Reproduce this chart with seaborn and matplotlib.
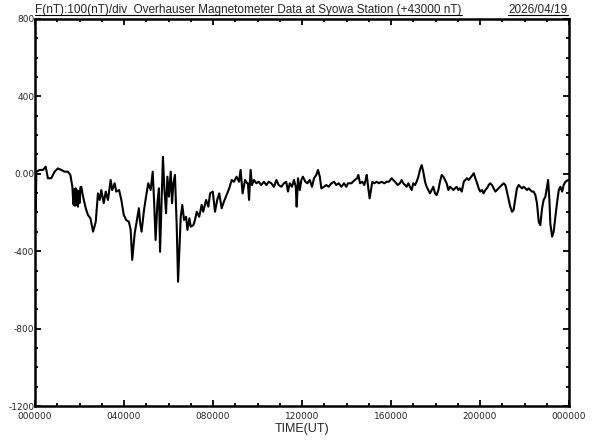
import matplotlib
matplotlib.use("Agg")
import matplotlib.pyplot as plt
from matplotlib.lines import Line2D
from matplotlib.ticker import FixedLocator, FixedFormatter, MultipleLocator
import seaborn as sns
import pandas as pd

# time of day (hours UT) and F deviation from 43000 nT
hours = [
    0.00, 0.03, 0.06, 0.21, 0.36, 0.48, 0.58, 0.73, 0.88, 1.03, 1.18, 1.33, 1.48, 1.59, 1.68,
    1.72, 1.74, 1.77, 1.80, 1.83, 1.86, 1.90, 1.93, 1.97, 2.01, 2.04, 2.08, 2.16, 2.28, 2.38,
    2.49, 2.61, 2.73, 2.83, 2.91, 2.98, 3.09, 3.18, 3.28, 3.40, 3.47, 3.58, 3.65, 3.78, 3.88,
    3.99, 4.10, 4.22, 4.30, 4.37, 4.48, 4.58, 4.67, 4.72, 4.79, 4.90, 4.99, 5.09, 5.20, 5.29,
    5.35, 5.42, 5.50, 5.57, 5.62, 5.69, 5.75, 5.81, 5.89, 5.95, 6.02, 6.10, 6.16, 6.22, 6.29,
    6.37, 6.43, 6.49, 6.55, 6.62, 6.70, 6.79, 6.85, 6.94, 7.00, 7.12, 7.19, 7.27, 7.38, 7.49,
    7.56, 7.69, 7.79, 7.87, 7.99, 8.09, 8.19, 8.28, 8.39, 8.49, 8.61, 8.73, 8.84, 8.94, 9.06,
    9.17, 9.24, 9.33, 9.44, 9.54, 9.57, 9.62, 9.69, 9.75, 9.84, 9.95, 10.05, 10.17, 10.29, 10.40,
    10.50, 10.62, 10.74, 10.85, 10.95, 11.07, 11.19, 11.29, 11.37, 11.45, 11.55, 11.64, 11.72, 11.76, 11.82,
    11.90, 11.97, 12.04, 12.15, 12.24, 12.35, 12.45, 12.54, 12.64, 12.72, 12.80, 12.87, 12.99, 13.09, 13.20,
    13.32, 13.44, 13.54, 13.65, 13.77, 13.89, 13.99, 14.07, 14.22, 14.37, 14.48, 14.53, 14.61, 14.71, 14.80,
    14.86, 14.91, 14.98, 15.04, 15.10, 15.16, 15.25, 15.36, 15.46, 15.58, 15.70, 15.81, 15.91, 16.03, 16.10,
    16.18, 16.30, 16.40, 16.48, 16.55, 16.63, 16.70, 16.78, 16.85, 16.93, 17.00, 17.08, 17.15, 17.23, 17.30,
    17.38, 17.45, 17.53, 17.60, 17.68, 17.75, 17.83, 17.90, 17.98, 18.05, 18.13, 18.20, 18.28, 18.35, 18.43,
    18.50, 18.58, 18.65, 18.73, 18.80, 18.88, 18.95, 19.03, 19.10, 19.18, 19.27, 19.34, 19.42, 19.49, 19.61,
    19.72, 19.79, 19.87, 19.94, 20.01, 20.09, 20.16, 20.24, 20.31, 20.39, 20.46, 20.54, 20.61, 20.69, 20.76,
    20.84, 20.91, 20.99, 21.06, 21.14, 21.21, 21.29, 21.36, 21.44, 21.51, 21.59, 21.66, 21.74, 21.81, 21.89,
    21.96, 22.04, 22.11, 22.19, 22.26, 22.34, 22.41, 22.49, 22.56, 22.64, 22.71, 22.79, 22.86, 22.94, 23.01,
    23.06, 23.12, 23.16, 23.24, 23.31, 23.39, 23.46, 23.54, 23.61, 23.69, 23.76, 23.84, 23.96,
]
f_nt = [
    -20, -190, 11, 20, 20, 37, -23, -23, 11, 28, 20, 11, 11, -6, -67,
    -150, -161, -80, -165, -75, -160, -85, -170, -90, -150, -70, -67, -118, -178, -213,
    -230, -299, -248, -101, -135, -84, -152, -92, -135, -32, -84, -49, -92, -84, -135,
    -213, -239, -248, -290, -445, -308, -239, -178, -248, -299, -187, -118, -49, -84, 11,
    -135, -342, -152, -75, -403, -135, 88, -67, -204, -15, -118, 11, -152, -49, -6,
    -273, -558, -394, -222, -161, -239, -222, -290, -230, -273, -265, -239, -196, -222, -161,
    -196, -135, -170, -101, -92, -196, -135, -101, -178, -144, -110, -75, -32, -41, -15,
    -41, 20, -101, -32, -49, -49, -135, 20, -58, -32, -49, -41, -58, -41, -58,
    -41, -49, -67, -32, -58, -67, -49, -41, -92, -49, -67, -32, -67, -170, -23,
    -84, -32, -15, -41, -49, -32, -67, -23, -6, 20, -15, -75, -67, -58, -67,
    -49, -41, -58, -49, -67, -49, -67, -49, -49, -32, -23, -6, -49, -41, -58,
    -32, -6, -75, -127, -84, -41, -49, -41, -49, -41, -49, -41, -41, -23, -32,
    -41, -58, -49, -32, -49, -58, -67, -49, -67, -84, -49, -58, -41, -15, 20,
    45, 11, -41, -67, -84, -101, -84, -67, -101, -110, -84, -41, -6, -15, -32,
    -49, -84, -67, -75, -84, -75, -67, -84, -75, -92, -41, -32, -23, -32, -15,
    3, -23, -49, -75, -92, -84, -101, -84, -75, -58, -49, -58, -75, -92, -84,
    -75, -67, -58, -49, -58, -92, -135, -170, -196, -187, -127, -75, -58, -67, -75,
    -67, -75, -84, -75, -84, -92, -92, -110, -152, -248, -265, -178, -135, -118, -67,
    -32, -135, -256, -325, -299, -222, -152, -84, -67, -92, -58, -41, -32,
]

y_ticks = [-1200, -800, -400, 0, 400, 800]
y_labels = ["-1200", "-800", "-400", "0.00", "400", "800"]
x_ticks = [0, 4, 8, 12, 16, 20, 24]
x_labels = ["000000", "040000", "080000", "120000", "160000", "200000", "000000"]

df = pd.DataFrame({"hour": hours, "F": f_nt})

sns.set_style("ticks")
plt.rcParams["font.family"] = ["Liberation Sans", "DejaVu Sans"]

fig = plt.figure(figsize=(5.92, 4.40), dpi=100)
ax = fig.add_axes([35 / 592, 1 - 406 / 440, 534 / 592, 387 / 440])

sns.lineplot(data=df, x="hour", y="F", color="black", linewidth=1.5,
             estimator=None, sort=False, ax=ax)

ax.set_xlim(0, 24)
ax.set_ylim(-1200, 800)
ax.xaxis.set_major_locator(FixedLocator(x_ticks))
ax.xaxis.set_major_formatter(FixedFormatter(x_labels))
ax.xaxis.set_minor_locator(MultipleLocator(1))
ax.yaxis.set_major_locator(FixedLocator(y_ticks))
ax.yaxis.set_major_formatter(FixedFormatter(y_labels))
ax.yaxis.set_minor_locator(MultipleLocator(100))

for s in ax.spines.values():
    s.set_visible(True)
    s.set_linewidth(1.8)
    s.set_color("black")

ax.tick_params(which="both", direction="in", top=True, right=True,
               color="black", width=1.3)
ax.tick_params(which="major", length=4.5)
ax.tick_params(which="minor", length=2.5)
ax.tick_params(axis="x", which="major", pad=4.5, labelsize=6.5)
ax.tick_params(axis="y", which="major", pad=0.5, labelsize=6.5)
for lab in ax.get_xticklabels() + ax.get_yticklabels():
    lab.set_family("DejaVu Sans")

ax.set_xlabel("TIME(UT)", fontsize=9, labelpad=1)
ax.set_ylabel("")

t1 = ax.annotate("F(nT):100(nT)/div  Overhauser Magnetometer Data at Syowa Station (+43000 nT)",
                 xy=(0, 1), xycoords="axes fraction", xytext=(0, 4.5),
                 textcoords="offset points", ha="left", va="baseline", fontsize=8.5)
t2 = ax.annotate("2026/04/19", xy=(1, 1), xycoords="axes fraction", xytext=(-1, 4.5),
                 textcoords="offset points", ha="right", va="baseline", fontsize=8.5)

# underline the header texts
fig.canvas.draw()
inv = fig.transFigure.inverted()
for t in (t1, t2):
    bb = t.get_window_extent()
    (x0, y0), (x1, _) = inv.transform([(bb.x0, bb.y0 + 0.5), (bb.x1, bb.y0)])
    fig.add_artist(Line2D([x0, x1], [y0, y0], transform=fig.transFigure,
                          color="black", linewidth=0.8))

fig.savefig("out.png", dpi=100)
